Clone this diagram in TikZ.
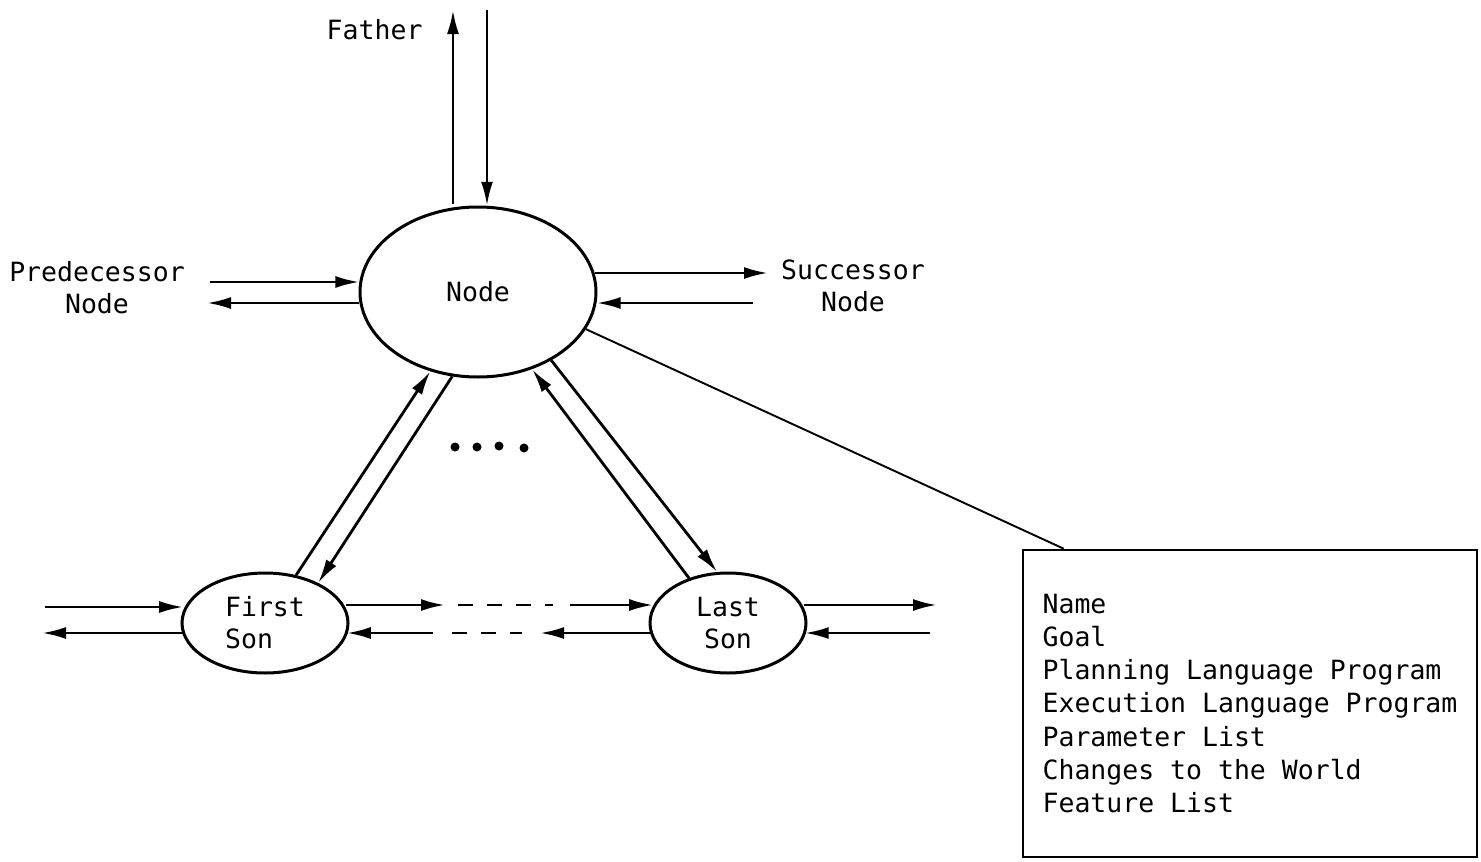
\documentclass[tikz,border=0pt]{standalone}
\usepackage{fontspec}
\newfontfamily\typew{DejaVu Sans Mono}
\usetikzlibrary{shapes.geometric,arrows.meta}
\begin{document}
\begin{tikzpicture}[x=1pt,y=-1pt,
  every node/.style={font=\typew\fontsize{26.5}{32}\selectfont},
  oval/.style={draw,ellipse,line width=3pt,inner sep=0pt},
  arr/.style={line width=2.8pt,-{Latex[length=24pt,width=12pt]}},
  dsh/.style={line width=2.8pt,dash pattern=on 15pt off 14pt},
  dotmark/.style={fill=black}]
\useasboundingbox (0,0) rectangle (1481,862);

% main nodes
\node[oval,minimum width=236pt,minimum height=170pt] (N) at (478,292) {Node};
\node[oval,minimum width=166pt,minimum height=100pt,align=left] (F) at (265,623) {First\\Son};
\node[oval,minimum width=156pt,minimum height=100pt,align=center] (L) at (728,623) {Last\\Son};
\node[draw,line width=2.6pt,minimum width=454pt,minimum height=307pt,align=left,inner sep=0pt,
      font=\typew\fontsize{26.5}{33.3}\selectfont] (box) at (1250,703.5)
  {Name\\Goal\\Planning Language Program\\Execution Language Program\\Parameter List\\Changes to the World\\Feature List};

% labels
\node[anchor=east] (fa) at (426,30) {Father};
\node[align=center] (pr) at (97,288) {Predecessor\\Node};
\node[align=center] (su) at (853,286) {Successor\\Node};

% free ends
\coordinate (fu) at (453,10);
\coordinate (fd) at (487,10);
\coordinate (p1) at (210,282);
\coordinate (p2) at (207,303);
\coordinate (s1) at (768,273);
\coordinate (s2) at (753,303);
\coordinate (l1) at (45,607);
\coordinate (l2) at (42,633);
\coordinate (m1) at (445,605);
\coordinate (m2) at (458,605);
\coordinate (m3) at (553,605);
\coordinate (m4) at (570,605);
\coordinate (b1) at (433,633);
\coordinate (b2) at (452,633);
\coordinate (b3) at (522,633);
\coordinate (b4) at (540,633);
\coordinate (r1) at (937,605);
\coordinate (r2) at (930,633);

% father
\draw[arr,shorten <=4pt] (N.107 -| fu) -- (fu);
\draw[arr] (fd) -- (N.84 -| fd);
% predecessor
\draw[arr] (p1) -- (N.175 |- p1);
\draw[arr] (N.185 |- p2) -- (p2);
% successor
\draw[arr] (N.9 |- s1) -- (s1);
\draw[arr] (s2) -- (N.355 |- s2);
% sons
\draw[arr] (F.57) -- (N.239);
\draw[arr] (N.253.5) -- (F.37);
\draw[arr] (L.131) -- (N.305);
\draw[arr] (N.317) -- (L.102);
% first son sides
\draw[arr] (l1) -- (F.171 |- l1);
\draw[arr] (F.189 |- l2) -- (l2);
% between sons
\draw[arr] (F.10.7 |- m1) -- (m1);
\draw[dsh] (m2) -- (m3);
\draw[arr] (m4) -- (L.167 |- m4);
\draw[arr] (b1) -- (F.351 |- b1);
\draw[dsh] (b2) -- (b3);
\draw[arr] (L.190 |- b4) -- (b4);
% last son right
\draw[arr] (L.11 |- r1) -- (r1);
\draw[arr] (r2) -- (L.350 |- r2);
% box connector
\draw[line width=1.9pt] (N.341) -- ([xshift=42pt]box.north west);
% dots
\fill[dotmark] (455,447) circle (4.5pt);
\fill[dotmark] (477,447) circle (4.5pt);
\fill[dotmark] (499,446) circle (4.5pt);
\fill[dotmark] (524,448) circle (4.5pt);
\end{tikzpicture}
\end{document}
